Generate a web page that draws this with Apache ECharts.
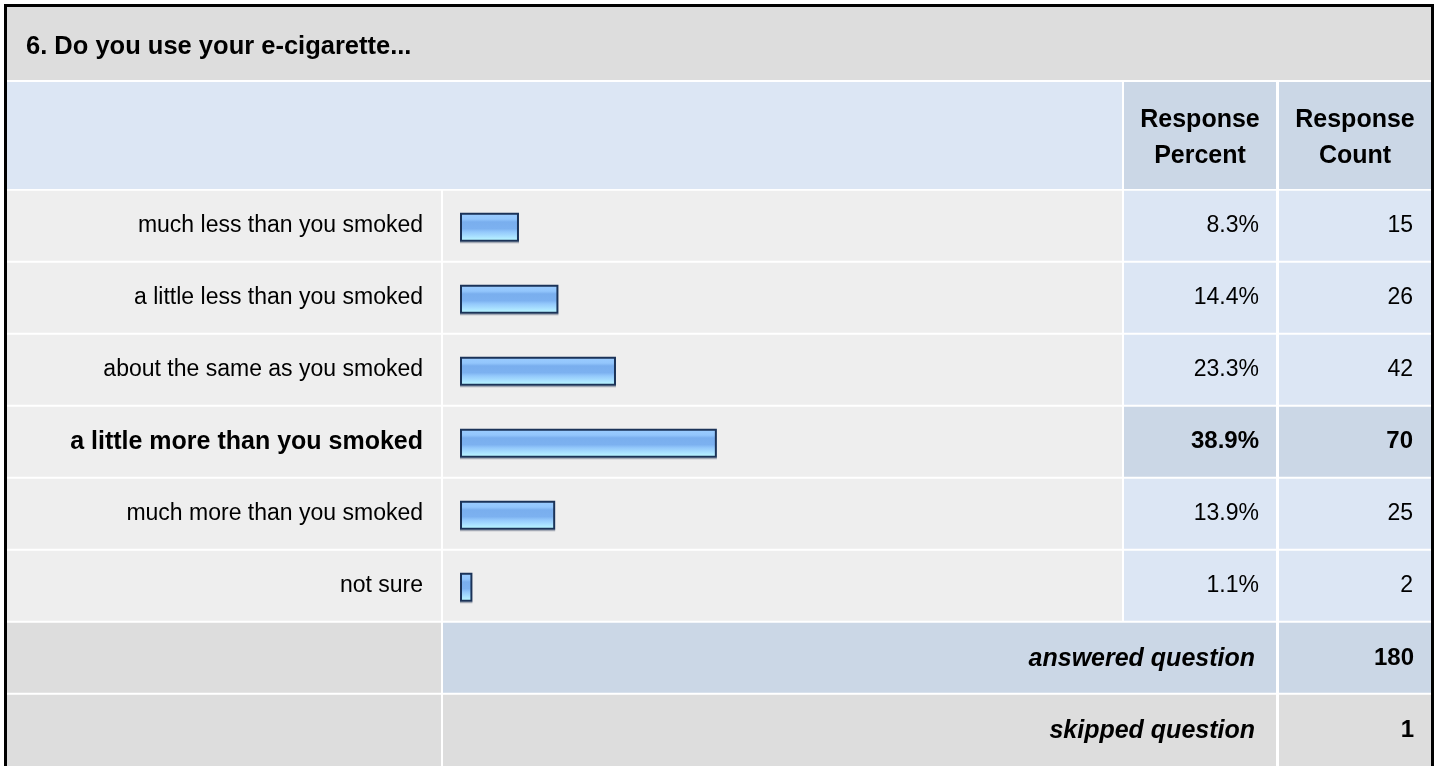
<!DOCTYPE html>
<html>
<head>
<meta charset="utf-8">
<title>6. Do you use your e-cigarette...</title>
<script src="https://cdn.jsdelivr.net/npm/echarts@6/dist/echarts.min.js"></script>
<style>
  html, body { margin: 0; padding: 0; background: #fff; }
  #chart { width: 1437px; height: 766px; }
</style>
</head>
<body>
<div id="chart"></div>
<script>
// survey data
var question = '6. Do you use your e-cigarette...';
var answers = [
  'much less than you smoked',
  'a little less than you smoked',
  'about the same as you smoked',
  'a little more than you smoked',
  'much more than you smoked',
  'not sure'
];
var percents = [8.3, 14.4, 23.3, 38.9, 13.9, 1.1];
var counts = [15, 26, 42, 70, 25, 2];
var answeredCount = 180;
var skippedCount = 1;

var FONT = '"Liberation Sans", Arial, Helvetica, sans-serif';
var topIndex = counts.indexOf(Math.max.apply(null, counts));

// table layout (px)
var ROW_TOP = 190.7, ROW_PITCH = 72, ROW_H = 70;
var COL_LABEL = [7, 441], COL_BAR = [443, 1122], COL_PCT = [1124, 1276], COL_CNT = [1279, 1431];
var X_MIN = -0.82; // bars keep a few px even at 0

var GRAY = '#dddddd', LIGHT = '#eeeeee', BLUE = '#dce6f4', BLUE2 = '#cbd7e6';

function cell(col, y, h, color) {
  return { type: 'rect', z: -10, silent: true,
    shape: { x: col[0], y: y, width: col[1] - col[0], height: h },
    style: { fill: color } };
}
function txt(text, x, y, size, weight, align, extra) {
  var s = { text: text, x: x, y: y, fill: '#000', fontFamily: FONT, fontSize: size,
    fontWeight: weight || 'normal', align: align || 'left', verticalAlign: 'middle' };
  if (extra) for (var k in extra) s[k] = extra[k];
  return { type: 'text', z: 10, silent: true, style: s };
}

var graphics = [];
// title + header
graphics.push(cell([7, 1431], 7, 73, GRAY));
graphics.push(cell([7, 1122], 82, 107, BLUE));
graphics.push(cell(COL_PCT, 82, 107, BLUE2));
graphics.push(cell(COL_CNT, 82, 107, BLUE2));
// answer rows
for (var i = 0; i < answers.length; i++) {
  var y = ROW_TOP + ROW_PITCH * i;
  var c = i === topIndex ? BLUE2 : BLUE;
  graphics.push(cell(COL_LABEL, y, ROW_H, LIGHT));
  graphics.push(cell(COL_BAR, y, ROW_H, LIGHT));
  graphics.push(cell(COL_PCT, y, ROW_H, c));
  graphics.push(cell(COL_CNT, y, ROW_H, c));
}
// footer rows
var yAns = ROW_TOP + ROW_PITCH * answers.length;
var ySkip = yAns + ROW_PITCH;
graphics.push(cell(COL_LABEL, yAns, ROW_H, GRAY));
graphics.push(cell([COL_BAR[0], COL_PCT[1]], yAns, ROW_H, BLUE2));
graphics.push(cell(COL_CNT, yAns, ROW_H, BLUE2));
graphics.push(cell(COL_LABEL, ySkip, 90, GRAY));
graphics.push(cell([COL_BAR[0], COL_PCT[1]], ySkip, 90, GRAY));
graphics.push(cell(COL_CNT, ySkip, 90, GRAY));
// outer frame
graphics.push({ type: 'rect', z: 20, silent: true,
  shape: { x: 5.5, y: 5.5, width: 1427, height: 820 },
  style: { fill: null, stroke: '#000', lineWidth: 3 } });

// texts
graphics.push(txt(question, 26, 47, 25.5, 'bold', 'left'));
graphics.push(txt('Response\nPercent', 1200, 138.5, 25, 'bold', 'center', { lineHeight: 36 }));
graphics.push(txt('Response\nCount', 1355, 138.5, 25, 'bold', 'center', { lineHeight: 36 }));
graphics.push(txt('answered question', 1255, yAns + 36, 25, 'bold', 'right', { fontStyle: 'italic' }));
graphics.push(txt(String(answeredCount), 1414, yAns + 36, 24, 'bold', 'right'));
graphics.push(txt('skipped question', 1255, ySkip + 36, 25, 'bold', 'right', { fontStyle: 'italic' }));
graphics.push(txt(String(skippedCount), 1414, ySkip + 36, 24, 'bold', 'right'));

var barFill = new echarts.graphic.LinearGradient(0, 0, 0, 1, [
  { offset: 0, color: '#9ccdff' },
  { offset: 0.22, color: '#93c6fc' },
  { offset: 0.32, color: '#79aeee' },
  { offset: 0.55, color: '#7cb1f0' },
  { offset: 0.66, color: '#93c8fb' },
  { offset: 0.82, color: '#a9e0ff' },
  { offset: 1, color: '#bfffff' }
]);

function renderBar(params, api) {
  var idx = api.value(1);
  var start = api.coord([X_MIN, idx]);
  var end = api.coord([api.value(0), idx]);
  var yc = start[1] + 1.5;
  var w = end[0] - start[0];
  var bold = idx === topIndex ? 'bold' : 'normal';
  var size = idx === topIndex ? 24 : 23;
  var ty = start[1];
  return {
    type: 'group',
    children: [
      { type: 'rect', shape: { x: start[0], y: yc + 14.5, width: w, height: 1.5 },
        style: { fill: 'rgba(70,85,110,0.45)' } },
      { type: 'rect', shape: { x: start[0] + 1, y: yc - 13.5, width: w - 2, height: 27 },
        style: { fill: barFill, stroke: '#1b3358', lineWidth: 2 } },
      { type: 'text', style: { text: api.value(0).toFixed(1) + '%', x: 1259, y: ty,
          align: 'right', verticalAlign: 'middle', fill: '#000',
          fontFamily: FONT, fontSize: size, fontWeight: bold } },
      { type: 'text', style: { text: String(api.value(2)), x: 1413, y: ty,
          align: 'right', verticalAlign: 'middle', fill: '#000',
          fontFamily: FONT, fontSize: size, fontWeight: bold } }
    ]
  };
}

var chart = echarts.init(document.getElementById('chart'), null, { renderer: 'canvas' });

var option = {
  animation: false,
  backgroundColor: '#fff',
  grid: { left: 460, top: ROW_TOP - 1, width: 652, height: ROW_PITCH * answers.length, containLabel: false },
  xAxis: { type: 'value', min: X_MIN, max: 100, show: false },
  yAxis: {
    type: 'category',
    inverse: true,
    data: answers.map(function (a, i) {
      return i === topIndex ? { value: a, textStyle: { fontWeight: 'bold', fontSize: 25 } } : a;
    }),
    axisLine: { show: false },
    axisTick: { show: false },
    splitLine: { show: false },
    axisLabel: { margin: 37, color: '#000', fontSize: 23, fontFamily: FONT }
  },
  graphic: { elements: graphics },
  series: [{
    type: 'custom',
    renderItem: renderBar,
    encode: { x: 0, y: 1 },
    data: percents.map(function (p, i) { return [p, i, counts[i]]; })
  }]
};
chart.setOption(option);
</script>
</body>
</html>
